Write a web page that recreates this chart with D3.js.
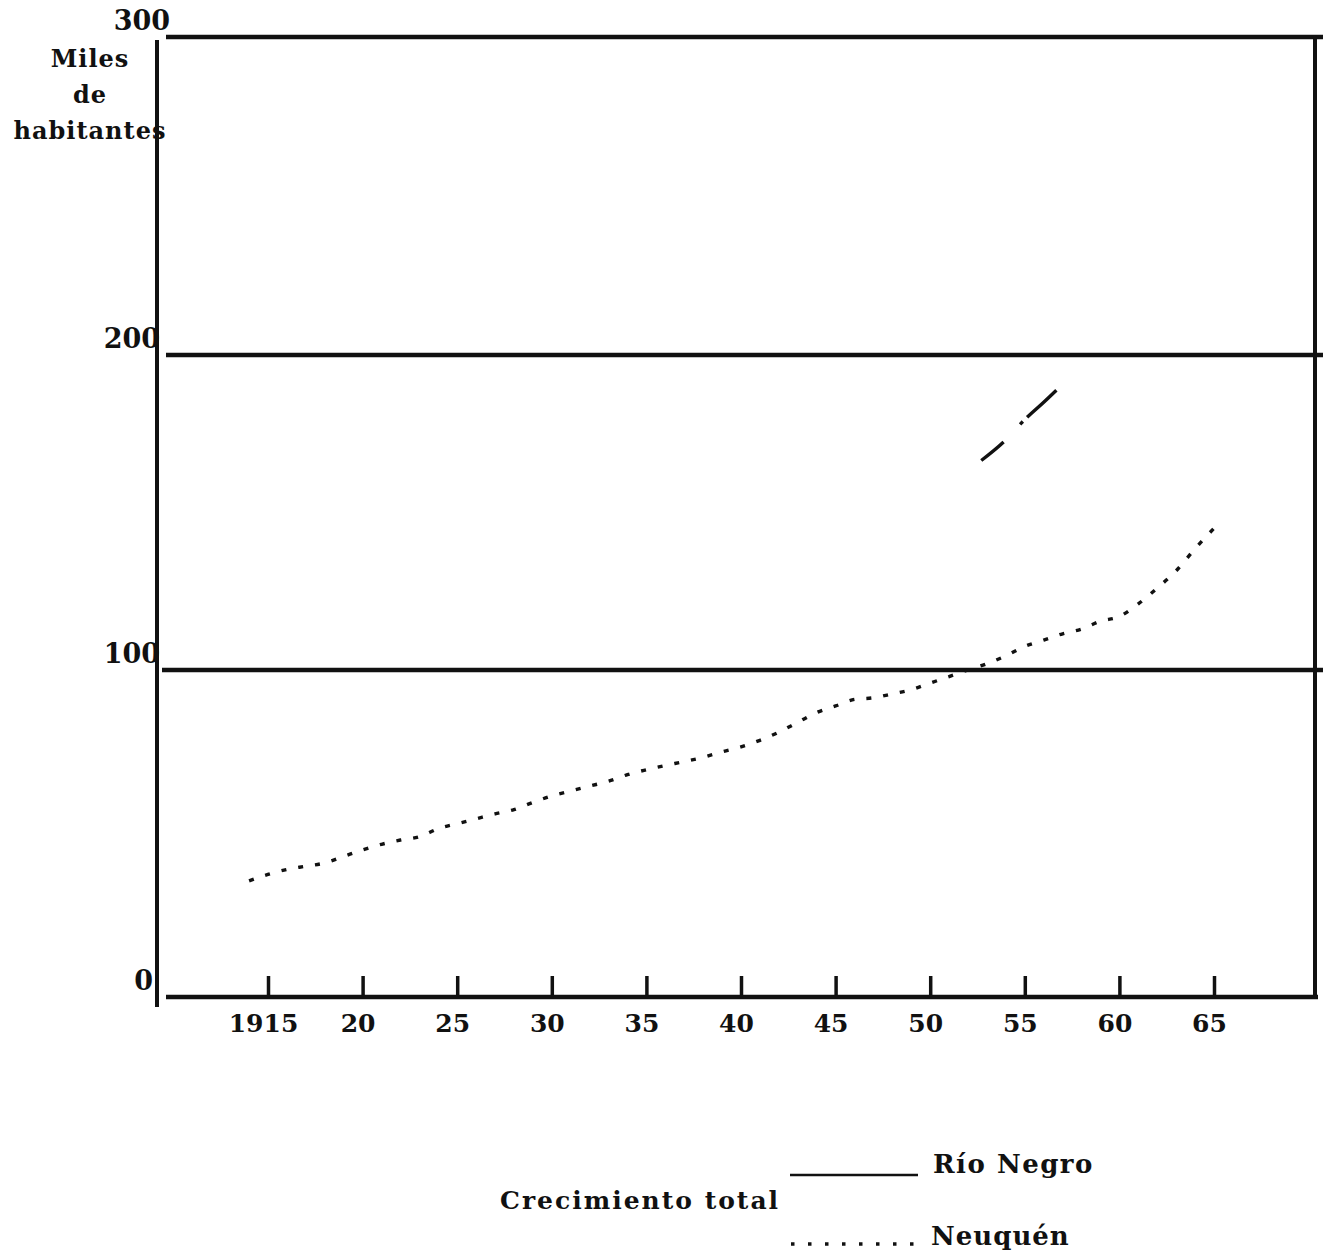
<!DOCTYPE html>
<html>
<head>
<meta charset="utf-8">
<script src="https://cdn.jsdelivr.net/npm/d3@7"></script>
<style>
  body { margin: 0; background: #fff; }
  svg text { font-family: "DejaVu Serif", serif; font-weight: bold; fill: #111; }
</style>
</head>
<body>
<svg id="chart" width="1325" height="1255"></svg>
<script>
// Neuquén, total growth (thousands of inhabitants)
const neuquenYears = [1914, 1915, 1916, 1917, 1918, 1919, 1920, 1921, 1922, 1923, 1924, 1925, 1926,
  1927, 1928, 1929, 1930, 1931, 1932, 1933, 1934, 1935, 1936, 1937, 1938, 1939, 1940, 1941, 1942,
  1943, 1944, 1945, 1946, 1947, 1948, 1949, 1950, 1951, 1952, 1953, 1954, 1955, 1956, 1957, 1958,
  1959, 1960, 1961, 1962, 1963, 1964, 1965];
const neuquenValues = [35.5, 37.5, 39, 40, 41, 43, 45, 46.7, 48, 49, 51.5, 53, 54.5,
  56, 57.3, 59.5, 61.5, 63, 64.5, 66, 68, 69.5, 70.8, 72, 73.3, 75, 76.5, 78.5, 81,
  84, 87, 89, 91, 91.5, 92.7, 94, 96, 98, 100, 102, 104.5, 107.5, 109.5, 111.5, 113,
  115.5, 117, 121, 126, 131.5, 138.5, 145];

// Río Negro: only this piece of the solid line survives in the scan
const rioNegroYears = [1952.7, 1953.9, 1955, 1956, 1956.7];
const rioNegroValues = [166.5, 172.5, 179.5, 185, 189];

const yTicks = [0, 100, 200, 300];
const xTicks = [1915, 1920, 1925, 1930, 1935, 1940, 1945, 1950, 1955, 1960, 1965];
const yTitle = ["Miles", "de", "habitantes"];
const legendTitle = "Crecimiento total";
const seriesNames = ["Río Negro", "Neuquén"];

const svg = d3.select("#chart");
const ink = "#111";

const x = d3.scaleLinear().domain([1915, 1965]).range([268, 1214]);
// the scanned grid is not evenly spaced, so the scale is piecewise
const y = d3.scaleLinear().domain([0, 100, 200, 300]).range([997, 670, 355, 37]);

const frame = { left: 157, right: 1315 };

//Horizontal rules at 100, 200, 300
svg.append("g")
  .selectAll("line")
  .data(yTicks.filter(v => v > 0))
  .enter()
  .append("line")
  .attr("x1", v => v === 100 ? 162 : 166)
  .attr("x2", 1323)
  .attr("y1", v => y(v))
  .attr("y2", v => y(v))
  .attr("stroke", ink)
  .attr("stroke-width", 4.5);

//Frame: left and right verticals
svg.append("line")
  .attr("x1", frame.left).attr("x2", frame.left)
  .attr("y1", y(300) + 3).attr("y2", y(0) + 10)
  .attr("stroke", ink).attr("stroke-width", 4);
svg.append("line")
  .attr("x1", frame.right).attr("x2", frame.right)
  .attr("y1", y(300)).attr("y2", y(0))
  .attr("stroke", ink).attr("stroke-width", 4);

//X axis, ticks pointing up
const xAxis = d3.axisBottom(x)
  .tickValues(xTicks)
  .tickSize(-21)
  .tickPadding(17)
  .tickFormat(d => d === 1915 ? "1915" : String(d % 100));

const gx = svg.append("g")
  .attr("transform", "translate(0," + y(0) + ")")
  .call(xAxis);
gx.select(".domain").remove();
gx.selectAll(".tick line").attr("stroke", ink).attr("stroke-width", 3.5);
gx.selectAll(".tick text")
  .style("font-family", "DejaVu Serif")
  .style("font-weight", "bold")
  .style("font-size", "25px")
  .attr("dx", -5)
  .attr("fill", ink);
gx.append("line")
  .attr("x1", 166).attr("x2", 1318)
  .attr("y1", 0).attr("y2", 0)
  .attr("stroke", ink).attr("stroke-width", 4.5);

//Y labels sit above their rules
svg.append("g")
  .selectAll("text")
  .data(yTicks)
  .enter()
  .append("text")
  .attr("x", v => v === 0 ? 153 : (v === 300 ? 170 : 160))
  .attr("y", v => y(v) - 7)
  .attr("text-anchor", "end")
  .style("font-size", "27px")
  .text(v => v);

svg.append("g")
  .selectAll("text")
  .data(yTitle)
  .enter()
  .append("text")
  .attr("x", 90)
  .attr("y", (d, i) => 67 + i * 36)
  .attr("text-anchor", "middle")
  .style("font-size", "24px")
  .style("letter-spacing", "1px")
  .text(d => d);

//Series
const line = d3.line()
  .x(d => x(d[0]))
  .y(d => y(d[1]))
  .curve(d3.curveMonotoneX);

svg.append("path")
  .datum(neuquenYears.map((yr, i) => [yr, neuquenValues[i]]))
  .attr("d", line)
  .attr("fill", "none")
  .attr("stroke", ink)
  .attr("stroke-width", 3.4)
  .attr("stroke-dasharray", "5,12");

svg.append("path")
  .datum(rioNegroYears.map((yr, i) => [yr, rioNegroValues[i]]))
  .attr("d", line)
  .attr("fill", "none")
  .attr("stroke", ink)
  .attr("stroke-width", 3.4)
  .attr("stroke-dasharray", "29,24,4,6,40");

//Legend
const legend = svg.append("g");
legend.append("text")
  .attr("x", 500).attr("y", 1209)
  .style("font-size", "25px")
  .style("letter-spacing", "2px")
  .text(legendTitle);
legend.append("line")
  .attr("x1", 790).attr("x2", 918)
  .attr("y1", 1175).attr("y2", 1175)
  .attr("stroke", ink).attr("stroke-width", 2.5);
legend.append("text")
  .attr("x", 933).attr("y", 1173)
  .style("font-size", "26px")
  .style("letter-spacing", "1.5px")
  .text(seriesNames[0]);
legend.append("line")
  .attr("x1", 791).attr("x2", 925)
  .attr("y1", 1244).attr("y2", 1244)
  .attr("stroke", ink).attr("stroke-width", 3.5)
  .attr("stroke-dasharray", "3.5,13.5");
legend.append("text")
  .attr("x", 931).attr("y", 1245)
  .style("font-size", "26px")
  .style("letter-spacing", "1px")
  .text(seriesNames[1]);
</script>
</body>
</html>
